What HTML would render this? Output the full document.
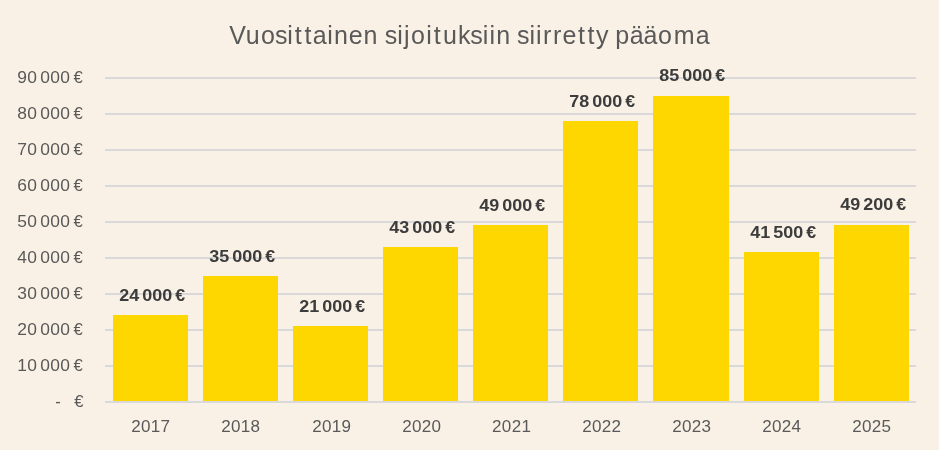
<!DOCTYPE html>
<html lang="fi"><head><meta charset="utf-8"><title>Vuosittainen sijoituksiin siirretty pääoma</title>
<style>html,body{margin:0;padding:0;background:#f9f1e6;}body{width:939px;height:450px;overflow:hidden;}svg{display:block;will-change:transform;}text{font-family:"Liberation Sans", sans-serif;}.t{font-size:25.0px;fill:#595959;}.n{font-size:16.75px;fill:#595959;letter-spacing:0.3px;}.b{font-size:16.75px;fill:#3c3c3c;letter-spacing:0px;font-weight:bold;}</style>
</head><body>
<svg width="939" height="450" viewBox="0 0 939 450">
<rect x="0" y="0" width="939" height="450" fill="#f9f1e6"/>
<text class="t" x="229.17 245.78 260.98 274.94 287.37 294.82 304.49 312.76 327.16 333.88 348.65 363.41 377.95 384.70 397.23 404.07 411.08 426.30 433.84 442.92 457.92 470.26 482.79 489.49 496.33 510.95 517.11 529.51 536.11 543.04 553.07 562.45 577.90 587.53 596.08 608.84 615.19 629.71 643.56 658.10 673.81 695.74" y="44">Vuosittainen sijoituksiin siirretty pääoma</text>
<rect x="105" y="77" width="811" height="2" fill="#d9d9d9"/>
<rect x="105" y="113" width="811" height="2" fill="#d9d9d9"/>
<rect x="105" y="149" width="811" height="2" fill="#d9d9d9"/>
<rect x="105" y="185" width="811" height="2" fill="#d9d9d9"/>
<rect x="105" y="221" width="811" height="2" fill="#d9d9d9"/>
<rect x="105" y="257" width="811" height="2" fill="#d9d9d9"/>
<rect x="105" y="293" width="811" height="2" fill="#d9d9d9"/>
<rect x="105" y="329" width="811" height="2" fill="#d9d9d9"/>
<rect x="105" y="365" width="811" height="2" fill="#d9d9d9"/>
<rect x="113" y="315" width="75" height="86" fill="#ffd700"/>
<rect x="203" y="276" width="75" height="125" fill="#ffd700"/>
<rect x="293" y="326" width="75" height="75" fill="#ffd700"/>
<rect x="383" y="247" width="75" height="154" fill="#ffd700"/>
<rect x="473" y="225" width="75" height="176" fill="#ffd700"/>
<rect x="563" y="121" width="75" height="280" fill="#ffd700"/>
<rect x="653" y="96" width="76" height="305" fill="#ffd700"/>
<rect x="744" y="252" width="75" height="149" fill="#ffd700"/>
<rect x="834" y="225" width="75" height="176" fill="#ffd700"/>
<rect x="105" y="401" width="811" height="2" fill="#d9d9d9"/>
<text class="n" y="83.0"><tspan x="17.20" textLength="20.00" lengthAdjust="spacingAndGlyphs">90</tspan> <tspan x="40.30" textLength="30.00" lengthAdjust="spacingAndGlyphs">000</tspan> <tspan x="73.40" textLength="9.60" lengthAdjust="spacingAndGlyphs">€</tspan></text>
<text class="n" y="119.0"><tspan x="17.20" textLength="20.00" lengthAdjust="spacingAndGlyphs">80</tspan> <tspan x="40.30" textLength="30.00" lengthAdjust="spacingAndGlyphs">000</tspan> <tspan x="73.40" textLength="9.60" lengthAdjust="spacingAndGlyphs">€</tspan></text>
<text class="n" y="155.0"><tspan x="17.20" textLength="20.00" lengthAdjust="spacingAndGlyphs">70</tspan> <tspan x="40.30" textLength="30.00" lengthAdjust="spacingAndGlyphs">000</tspan> <tspan x="73.40" textLength="9.60" lengthAdjust="spacingAndGlyphs">€</tspan></text>
<text class="n" y="191.0"><tspan x="17.20" textLength="20.00" lengthAdjust="spacingAndGlyphs">60</tspan> <tspan x="40.30" textLength="30.00" lengthAdjust="spacingAndGlyphs">000</tspan> <tspan x="73.40" textLength="9.60" lengthAdjust="spacingAndGlyphs">€</tspan></text>
<text class="n" y="227.0"><tspan x="17.20" textLength="20.00" lengthAdjust="spacingAndGlyphs">50</tspan> <tspan x="40.30" textLength="30.00" lengthAdjust="spacingAndGlyphs">000</tspan> <tspan x="73.40" textLength="9.60" lengthAdjust="spacingAndGlyphs">€</tspan></text>
<text class="n" y="263.0"><tspan x="17.20" textLength="20.00" lengthAdjust="spacingAndGlyphs">40</tspan> <tspan x="40.30" textLength="30.00" lengthAdjust="spacingAndGlyphs">000</tspan> <tspan x="73.40" textLength="9.60" lengthAdjust="spacingAndGlyphs">€</tspan></text>
<text class="n" y="299.0"><tspan x="17.20" textLength="20.00" lengthAdjust="spacingAndGlyphs">30</tspan> <tspan x="40.30" textLength="30.00" lengthAdjust="spacingAndGlyphs">000</tspan> <tspan x="73.40" textLength="9.60" lengthAdjust="spacingAndGlyphs">€</tspan></text>
<text class="n" y="335.0"><tspan x="17.20" textLength="20.00" lengthAdjust="spacingAndGlyphs">20</tspan> <tspan x="40.30" textLength="30.00" lengthAdjust="spacingAndGlyphs">000</tspan> <tspan x="73.40" textLength="9.60" lengthAdjust="spacingAndGlyphs">€</tspan></text>
<text class="n" y="371.0"><tspan x="17.20" textLength="20.00" lengthAdjust="spacingAndGlyphs">10</tspan> <tspan x="40.30" textLength="30.00" lengthAdjust="spacingAndGlyphs">000</tspan> <tspan x="73.40" textLength="9.60" lengthAdjust="spacingAndGlyphs">€</tspan></text>
<text class="n" y="407"><tspan x="55.3">-</tspan> <tspan x="74.35" textLength="9.60" lengthAdjust="spacingAndGlyphs">€</tspan></text>
<text class="n" x="131.15" y="432.0" textLength="39.20" lengthAdjust="spacingAndGlyphs">2017</text>
<text class="n" x="221.15" y="432.0" textLength="39.20" lengthAdjust="spacingAndGlyphs">2018</text>
<text class="n" x="312.20" y="432.0" textLength="39.20" lengthAdjust="spacingAndGlyphs">2019</text>
<text class="n" x="402.20" y="432.0" textLength="39.20" lengthAdjust="spacingAndGlyphs">2020</text>
<text class="n" x="492.05" y="432.0" textLength="39.20" lengthAdjust="spacingAndGlyphs">2021</text>
<text class="n" x="582.20" y="432.0" textLength="39.20" lengthAdjust="spacingAndGlyphs">2022</text>
<text class="n" x="672.20" y="432.0" textLength="39.20" lengthAdjust="spacingAndGlyphs">2023</text>
<text class="n" x="762.20" y="432.0" textLength="39.20" lengthAdjust="spacingAndGlyphs">2024</text>
<text class="n" x="852.20" y="432.0" textLength="39.20" lengthAdjust="spacingAndGlyphs">2025</text>
<text class="b" y="301.0"><tspan x="119.25" textLength="20.00" lengthAdjust="spacingAndGlyphs">24</tspan> <tspan x="142.25" textLength="30.00" lengthAdjust="spacingAndGlyphs">000</tspan> <tspan x="175.30" textLength="9.90" lengthAdjust="spacingAndGlyphs">€</tspan></text>
<text class="b" y="262.0"><tspan x="209.25" textLength="20.00" lengthAdjust="spacingAndGlyphs">35</tspan> <tspan x="232.25" textLength="30.00" lengthAdjust="spacingAndGlyphs">000</tspan> <tspan x="265.30" textLength="9.90" lengthAdjust="spacingAndGlyphs">€</tspan></text>
<text class="b" y="312.0"><tspan x="299.25" textLength="20.00" lengthAdjust="spacingAndGlyphs">21</tspan> <tspan x="322.25" textLength="30.00" lengthAdjust="spacingAndGlyphs">000</tspan> <tspan x="355.30" textLength="9.90" lengthAdjust="spacingAndGlyphs">€</tspan></text>
<text class="b" y="233.0"><tspan x="389.25" textLength="20.00" lengthAdjust="spacingAndGlyphs">43</tspan> <tspan x="412.25" textLength="30.00" lengthAdjust="spacingAndGlyphs">000</tspan> <tspan x="445.30" textLength="9.90" lengthAdjust="spacingAndGlyphs">€</tspan></text>
<text class="b" y="211.0"><tspan x="479.25" textLength="20.00" lengthAdjust="spacingAndGlyphs">49</tspan> <tspan x="502.25" textLength="30.00" lengthAdjust="spacingAndGlyphs">000</tspan> <tspan x="535.30" textLength="9.90" lengthAdjust="spacingAndGlyphs">€</tspan></text>
<text class="b" y="107.0"><tspan x="569.25" textLength="20.00" lengthAdjust="spacingAndGlyphs">78</tspan> <tspan x="592.25" textLength="30.00" lengthAdjust="spacingAndGlyphs">000</tspan> <tspan x="625.30" textLength="9.90" lengthAdjust="spacingAndGlyphs">€</tspan></text>
<text class="b" y="81.0"><tspan x="659.25" textLength="20.00" lengthAdjust="spacingAndGlyphs">85</tspan> <tspan x="682.25" textLength="30.00" lengthAdjust="spacingAndGlyphs">000</tspan> <tspan x="715.30" textLength="9.90" lengthAdjust="spacingAndGlyphs">€</tspan></text>
<text class="b" y="238.0"><tspan x="750.25" textLength="20.00" lengthAdjust="spacingAndGlyphs">41</tspan> <tspan x="773.25" textLength="30.00" lengthAdjust="spacingAndGlyphs">500</tspan> <tspan x="806.30" textLength="9.90" lengthAdjust="spacingAndGlyphs">€</tspan></text>
<text class="b" y="210.0"><tspan x="840.25" textLength="20.00" lengthAdjust="spacingAndGlyphs">49</tspan> <tspan x="863.25" textLength="30.00" lengthAdjust="spacingAndGlyphs">200</tspan> <tspan x="896.30" textLength="9.90" lengthAdjust="spacingAndGlyphs">€</tspan></text>
</svg></body></html>
